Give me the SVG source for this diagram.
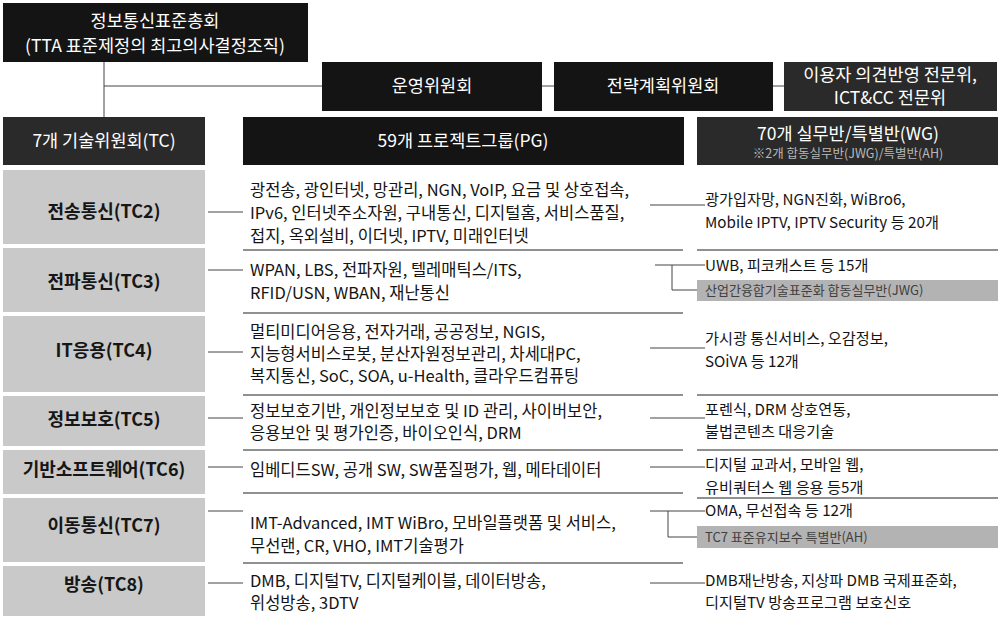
<svg xmlns="http://www.w3.org/2000/svg" width="1003" height="617" viewBox="0 0 1003 617">
<style>
text{font-family:"Noto Sans CJK KR","Noto Sans",sans-serif}
.wt{fill:#ffffff;font-size:17.5px;text-anchor:middle}
.blk{fill:#141414}
.dk{fill:#2a2a2a}
.tcb{fill:#c9c9c9}
.tc{fill:#161616;font-size:18px;font-weight:bold;text-anchor:middle}
.pg{fill:#141414;font-size:16.5px}
.wg{fill:#141414;font-size:15.2px}
.bar{fill:#b3b3b3}
.bt{fill:#404040;font-size:13px}
.sep{stroke:#222;stroke-width:1.2;fill:none}
.cn{stroke:#444;stroke-width:1;fill:none}
.sub{fill:#b8b8b8;font-size:12.5px;text-anchor:middle}
</style>
<rect width="1003" height="617" fill="#ffffff"/>

<g id="connectors">
<path class="cn" d="M104 62V117M104 86H322M542 86H554M773 86H784"/>
<path class="cn" d="M208 212H243M208 270H243M208 352H243M208 418H243M208 467H243M208 511H243M208 583H243"/>
<path class="cn" d="M650 205H705M655 265H705M672 265V290H697M650 348H705M650 418H705M650 467H705M650 511H705M668 511V537H697M650 583H705"/>
<path class="sep" d="M243 250H683M243 313H683M243 395H683M243 450H683M243 493H683M243 563H683"/>
<path class="sep" d="M697 250H998M697 395H998M697 450H998M697 498H998"/>
</g>

<g id="ga">
<rect class="blk" x="3" y="3" width="305" height="59"/>
<text class="wt" x="155" y="27" font-size="19">정보통신표준총회</text>
<text class="wt" x="155" y="52" font-size="19">(TTA 표준제정의 최고의사결정조직)</text>
</g>
<g id="op">
<rect class="blk" x="322" y="62" width="220" height="49"/>
<text class="wt" x="432" y="92">운영위원회</text>
</g>
<g id="st">
<rect class="blk" x="554" y="62" width="219" height="49"/>
<text class="wt" x="663" y="92">전략계획위원회</text>
</g>
<g id="us">
<rect class="dk" x="784" y="62" width="213" height="49"/>
<text class="wt" x="890" y="81" font-size="16.5">이용자 의견반영 전문위,</text>
<text class="wt" x="890" y="104" font-size="16.5">ICT&amp;CC 전문위</text>
</g>

<g id="h-tc">
<rect class="dk" x="3" y="117" width="202" height="48"/>
<text class="wt" x="104" y="147">7개 기술위원회(TC)</text>
</g>
<g id="h-pg">
<rect class="blk" x="243" y="117" width="441" height="48"/>
<text class="wt" x="463" y="147">59개 프로젝트그룹(PG)</text>
</g>
<g id="h-wg">
<rect class="dk" x="697" y="117" width="301" height="48"/>
<text class="wt" x="848" y="140">70개 실무반/특별반(WG)</text>
<text class="sub" x="848" y="158">※2개 합동실무반(JWG)/특별반(AH)</text>
</g>

<g id="tc2">
<rect class="tcb" x="3" y="170" width="202" height="74"/>
<text class="tc" x="104" y="218">전송통신(TC2)</text>
</g>
<g id="tc3">
<rect class="tcb" x="3" y="248" width="202" height="64"/>
<text class="tc" x="104" y="288">전파통신(TC3)</text>
</g>
<g id="tc4">
<rect class="tcb" x="3" y="316" width="202" height="76"/>
<text class="tc" x="104" y="357">IT응용(TC4)</text>
</g>
<g id="tc5">
<rect class="tcb" x="3" y="396" width="202" height="50"/>
<text class="tc" x="104" y="426">정보보호(TC5)</text>
</g>
<g id="tc6">
<rect class="tcb" x="3" y="450" width="202" height="44"/>
<text class="tc" x="104" y="476">기반소프트웨어(TC6)</text>
</g>
<g id="tc7">
<rect class="tcb" x="3" y="498" width="202" height="64"/>
<text class="tc" x="104" y="532">이동통신(TC7)</text>
</g>
<g id="tc8">
<rect class="tcb" x="3" y="566" width="202" height="50"/>
<text class="tc" x="104" y="591">방송(TC8)</text>
</g>

<g id="pg2">
<text class="pg" x="250" y="196">광전송, 광인터넷, 망관리, NGN, VoIP, 요금 및 상호접속,</text>
<text class="pg" x="250" y="219">IPv6, 인터넷주소자원, 구내통신, 디지털홈, 서비스품질,</text>
<text class="pg" x="250" y="242">접지, 옥외설비, 이더넷, IPTV, 미래인터넷</text>
</g>
<g id="pg3">
<text class="pg" x="250" y="276">WPAN, LBS, 전파자원, 텔레매틱스/ITS,</text>
<text class="pg" x="250" y="299">RFID/USN, WBAN, 재난통신</text>
</g>
<g id="pg4">
<text class="pg" x="250" y="338">멀티미디어응용, 전자거래, 공공정보, NGIS,</text>
<text class="pg" x="250" y="360">지능형서비스로봇, 분산자원정보관리, 차세대PC,</text>
<text class="pg" x="250" y="382">복지통신, SoC, SOA, u-Health, 클라우드컴퓨팅</text>
</g>
<g id="pg5">
<text class="pg" x="250" y="417">정보보호기반, 개인정보보호 및 ID 관리, 사이버보안,</text>
<text class="pg" x="250" y="439">응용보안 및 평가인증, 바이오인식, DRM</text>
</g>
<g id="pg6">
<text class="pg" x="250" y="476">임베디드SW, 공개 SW, SW품질평가, 웹, 메타데이터</text>
</g>
<g id="pg7">
<text class="pg" x="250" y="529">IMT-Advanced, IMT WiBro, 모바일플랫폼 및 서비스,</text>
<text class="pg" x="250" y="552">무선랜, CR, VHO, IMT기술평가</text>
</g>
<g id="pg8">
<text class="pg" x="250" y="587">DMB, 디지털TV, 디지털케이블, 데이터방송,</text>
<text class="pg" x="250" y="609">위성방송, 3DTV</text>
</g>

<g id="wg2">
<text class="wg" x="705" y="205">광가입자망, NGN진화, WiBro6,</text>
<text class="wg" x="705" y="228">Mobile IPTV, IPTV Security 등 20개</text>
</g>
<g id="wg3">
<text class="wg" x="705" y="271">UWB, 피코캐스트 등 15개</text>
</g>
<g id="jwg">
<rect class="bar" x="697" y="280" width="301" height="21"/>
<text class="bt" x="705" y="295">산업간융합기술표준화 합동실무반(JWG)</text>
</g>
<g id="wg4">
<text class="wg" x="705" y="344">가시광 통신서비스, 오감정보,</text>
<text class="wg" x="705" y="367">SOiVA 등 12개</text>
</g>
<g id="wg5">
<text class="wg" x="705" y="415">포렌식, DRM 상호연동,</text>
<text class="wg" x="705" y="437">불법콘텐츠 대응기술</text>
</g>
<g id="wg6">
<text class="wg" x="705" y="470">디지털 교과서, 모바일 웹,</text>
<text class="wg" x="705" y="493">유비쿼터스 웹 응용 등5개</text>
</g>
<g id="wg7">
<text class="wg" x="705" y="516">OMA, 무선접속 등 12개</text>
</g>
<g id="ah">
<rect class="bar" x="697" y="526" width="301" height="22"/>
<text class="bt" x="705" y="542">TC7 표준유지보수 특별반(AH)</text>
</g>
<g id="wg8">
<text class="wg" x="705" y="586">DMB재난방송, 지상파 DMB 국제표준화,</text>
<text class="wg" x="705" y="608">디지털TV 방송프로그램 보호신호</text>
</g>
</svg>
